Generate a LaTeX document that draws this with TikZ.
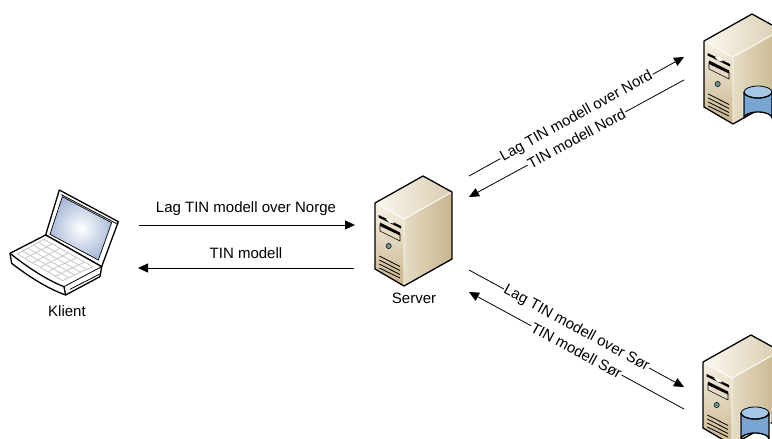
\documentclass[tikz,border=0pt]{standalone}
\usepackage{fontspec}
\setmainfont{Liberation Sans}
\usetikzlibrary{arrows.meta,calc}
\definecolor{faceTop}{RGB}{246,241,228}
\definecolor{faceBot}{RGB}{200,180,140}
\definecolor{sideA}{RGB}{230,220,196}
\definecolor{sideB}{RGB}{198,180,140}
\definecolor{roofA}{RGB}{250,248,240}
\definecolor{roofB}{RGB}{218,205,176}
\definecolor{cylA}{RGB}{120,165,210}
\definecolor{cylT}{RGB}{165,200,232}
\definecolor{scrA}{RGB}{170,188,218}
\tikzset{
  conn/.style={draw=black,line width=0.8pt,-{Triangle[length=10pt,width=9pt]}},
  plainlabel/.style={font=\fontsize{15pt}{17pt}\selectfont,text=black,inner sep=1pt},
  linelabel/.style={plainlabel,fill=white,sloped,pos=.5,inner ysep=0pt},
  outl/.style={draw=black,line width=1.3pt,line join=round},
  fineline/.style={draw=black,line width=0.8pt},
  keyline/.style={draw=gray!45,line width=.8pt},
}
\newcommand{\srv}{%
  \shade[left color=sideA,right color=sideB] (29,16)--(77,-11)--(77,56)--(29,83)--cycle;
  \shade[top color=faceTop,bottom color=faceBot] (0,0)--(29,16)--(29,83)--(0,66)--cycle;
  \shade[left color=roofA,right color=roofB] (0,0)--(48,-27)--(77,-11)--(29,16)--cycle;
  \draw[white,line width=.9pt] (0,0)--(29,16)--(77,-11) (29,16)--(29,83);
  \draw[outl] (0,0)--(48,-27)--(77,-11)--(77,56)--(29,83)--(0,66)--cycle;
  \fill[black] (3.7,12)--(26,23)--(26,25.5)--(3.7,14.5)--cycle;
  \fill[white] (11,16)..controls(14,15)and(18,17)..(19,20.5)--(14,19.5)--cycle;
  \fill[black] (5,19.5)--(25,29.5)--(25,32.5)--(5,23)--cycle;
  \draw[draw=black,line width=.6pt] (5,21)--(5,28)--(25,38)--(25,31);
  \fill[teal!55!gray!80,draw=black,line width=.5pt] (13.7,43) circle (2.6);
  \draw[fineline] (4.3,53)--(25,63.5) (4.3,57)--(25,67.5) (4.3,61)--(25,71.5) (4.3,65)--(25,75);
}
\newcommand{\dbcyl}{%
  \path[fill=white] (-15.5,0)--(-15.5,26) arc[start angle=180,end angle=360,x radius=15.5,y radius=8]--(15.5,0) arc[start angle=0,end angle=180,x radius=15.5,y radius=8]--cycle;
  \shade[left color=cylA,middle color=white,right color=cylA] (-14,0)--(-14,26) arc[start angle=180,end angle=360,x radius=14,y radius=6]--(14,0)--cycle;
  \fill[cylT] (0,0) ellipse (14 and 6);
  \draw[outl] (-14,0)--(-14,26) arc[start angle=180,end angle=360,x radius=14,y radius=6]--(14,0);
  \draw[fineline] (0,0) ellipse (14 and 6);
  \draw[outl] (-14,0) arc[start angle=180,end angle=0,x radius=14,y radius=6];
}
\begin{document}
\begin{tikzpicture}[x=1pt,y=-1pt]
\useasboundingbox (0,0) rectangle (772,439);
% Laptop
\begin{scope}[shift={(0,170)}, x=0.3333pt,y=-0.3333pt]
  \draw[outl,fill=white] (178,60)--(355,155)--(305,290)--(137,195)--cycle;
  \draw[fineline] (184,74)--(350,161);
  \shade[inner color=white,outer color=scrA,draw=black,line width=.7pt] (187,80)--(335,158)--(295,270)--(150,193)--cycle;
  \draw[outl,fill=white] (137,195)--(305,290)--(300,320)--(197,375)
     ..controls (140,355) and (80,315) .. (35,280)--(30,250)--cycle;
  \draw[outl] (30,250)..controls (80,290) and (140,330) .. (192,350)--(197,375);
  \draw[fineline] (192,350)--(305,290);
  \draw[fineline] (210,358)--(300,312);
  \coordinate (k1) at (132,208);
  \coordinate (k2) at (278,290);
  \coordinate (k3) at (188,332);
  \coordinate (k4) at (52,252);
  \foreach \t in {0,.2,.4,.6,.8,1} {
    \draw[keyline] ($(k1)!\t!(k4)$)--($(k2)!\t!(k3)$);
  }
  \foreach \t in {0,.167,.333,.5,.667,.833,1} {
    \draw[keyline] ($(k1)!\t!(k2)$)--($(k4)!\t!(k3)$);
  }
\end{scope}
\node[plainlabel] (klient) at (67,311) {Klient};
\node[plainlabel] (server) at (414,298) {Server};
% Server
\begin{scope}[shift={(375,203)}] \srv \end{scope}
% DB servers
\begin{scope}[shift={(704,41)}] \srv \end{scope}
\begin{scope}[shift={(758,92)}] \dbcyl \end{scope}
\begin{scope}[shift={(703,362)}] \srv \end{scope}
\begin{scope}[shift={(755,413)}] \dbcyl \end{scope}
% connector ends
\coordinate (a1) at (139,225); \coordinate (a2) at (355,225);
\coordinate (b1) at (354,268); \coordinate (b2) at (138,268);
\coordinate (c1) at (469,176); \coordinate (c2) at (684,57);
\coordinate (d1) at (684,80); \coordinate (d2) at (469,197);
\coordinate (e1) at (469,270); \coordinate (e2) at (684,387);
\coordinate (f1) at (684,409); \coordinate (f2) at (469,292);
\draw[conn] (a1)--(a2);
\draw[conn] (b1)--(b2);
\draw[conn] (c1)--(c2) node[linelabel] {Lag TIN modell over Nord};
\draw[conn] (d1)--(d2) node[linelabel] {TIN modell Nord};
\draw[conn] (e1)--(e2) node[linelabel] {Lag TIN modell over Sør};
\draw[conn] (f1)--(f2) node[linelabel] {TIN modell Sør};
\node[plainlabel] (t1) at (246,209) {Lag TIN modell over Norge};
\node[plainlabel] (t2) at (246,253) {TIN modell};
\end{tikzpicture}
\end{document}
